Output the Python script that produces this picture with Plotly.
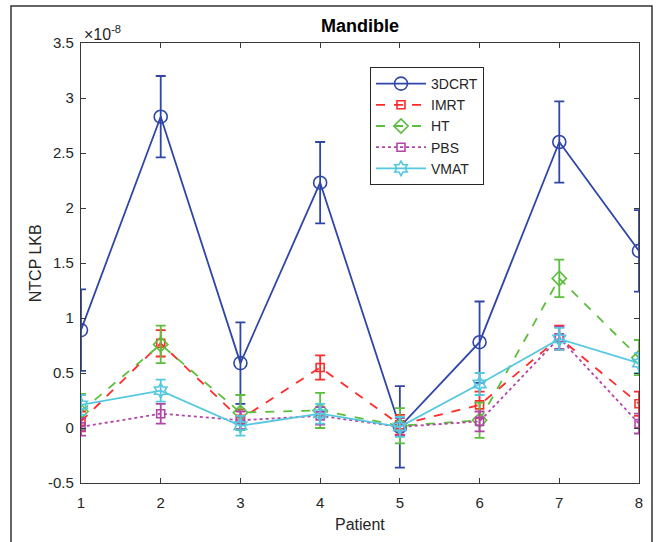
import plotly.graph_objects as go

# values in units of 1e-8 (axis shows x10^-8)
patients = [1, 2, 3, 4, 5, 6, 7, 8]
series_names = ["3DCRT", "IMRT", "HT", "PBS", "VMAT"]

dcrt = [0.89, 2.83, 0.59, 2.23, 0.01, 0.78, 2.60, 1.61]
dcrt_err = [0.37, 0.37, 0.37, 0.37, 0.37, 0.37, 0.37, 0.37]

imrt = [0.06, 0.77, 0.08, 0.55, 0.03, 0.21, 0.82, 0.22]
imrt_err = [0.09, 0.12, 0.09, 0.11, 0.09, 0.12, 0.11, 0.11]

ht = [0.15, 0.76, 0.14, 0.16, 0.02, 0.07, 1.36, 0.64]
ht_err = [0.16, 0.17, 0.16, 0.16, 0.16, 0.16, 0.17, 0.16]

pbs = [0.01, 0.13, 0.07, 0.11, 0.01, 0.06, 0.82, 0.04]
pbs_err = [0.08, 0.09, 0.08, 0.08, 0.08, 0.09, 0.1, 0.09]

vmat = [0.21, 0.34, 0.02, 0.13, 0.01, 0.40, 0.81, 0.59]
vmat_err = [0.09, 0.1, 0.09, 0.09, 0.09, 0.1, 0.1, 0.09]

y_ticks = [-0.5, 0, 0.5, 1, 1.5, 2, 2.5, 3, 3.5]
y_ticklabels = ["-0.5", "0", "0.5", "1", "1.5", "2", "2.5", "3", "3.5"]

colors = ["#2F46A8", "#FF2A2A", "#5CBE3C", "#B445A8", "#55C8E0"]
dashes = ["solid", "dash", "dash", "dot", "solid"]
symbols = ["circle-open", "square-open", "diamond-open", "square-open", "hexagram-open"]
msizes = [13, 8, 11, 8, 11]
values = [dcrt, imrt, ht, pbs, vmat]
errors = [dcrt_err, imrt_err, ht_err, pbs_err, vmat_err]

fig = go.Figure()
for name, v, e, c, d, s, ms in zip(series_names, values, errors, colors, dashes, symbols, msizes):
    fig.add_trace(go.Scatter(
        x=patients, y=v, name=name, mode="lines+markers",
        line=dict(color=c, width=1.8, dash=d),
        marker=dict(symbol=s, size=ms, color=c, line=dict(color=c, width=1.6)),
        error_y=dict(type="data", array=e, visible=True, color=c, thickness=1.8, width=5),
    ))

axis_col = "#3a3a3a"
font_fam = "Liberation Sans, Arial, sans-serif"
fig.update_layout(
    width=657, height=542,
    margin=dict(l=81, r=18, t=43, b=59),
    paper_bgcolor="white", plot_bgcolor="white",
    font=dict(family=font_fam, color="#262626", size=15),
    showlegend=True,
    legend=dict(x=(370 - 81) / 558, y=(483 - 67) / 440, xanchor="left", yanchor="top",
                bordercolor="#262626", borderwidth=1, bgcolor="white",
                font=dict(size=14, family=font_fam, color="#262626"),
                tracegroupgap=0, itemwidth=50),
    xaxis=dict(range=[1, 8], tickvals=patients, ticks="inside", ticklen=5,
               tickcolor=axis_col, showline=True, linecolor=axis_col, linewidth=1.2,
               mirror="ticks", showgrid=False, zeroline=False,
               tickfont=dict(size=15), ticklabelstandoff=6),
    yaxis=dict(range=[-0.5, 3.5], tickvals=y_ticks, ticktext=y_ticklabels,
               ticks="inside", ticklen=5, tickcolor=axis_col, showline=True,
               linecolor=axis_col, linewidth=1.2, mirror="ticks", showgrid=False,
               zeroline=False, tickfont=dict(size=15), ticklabelstandoff=3),
)

fig.add_annotation(text="<b>Mandible</b>", xref="paper", yref="paper", x=0.5, y=1.039,
                   showarrow=False, font=dict(size=18, color="black"), yanchor="middle")
fig.add_annotation(text="×10<sup>-8</sup>", xref="paper", yref="paper", x=0.002, y=1.022,
                   xanchor="left", yanchor="middle", showarrow=False,
                   font=dict(size=16, color="#262626"))
fig.add_annotation(text="NTCP LKB", xref="paper", yref="paper", x=-0.082, y=0.5,
                   textangle=-90, showarrow=False, xanchor="center", yanchor="middle",
                   font=dict(size=16, color="#262626"))
fig.add_annotation(text="Patient", xref="paper", yref="paper", x=0.5, y=-0.095,
                   showarrow=False, xanchor="center", yanchor="middle",
                   font=dict(size=16, color="#262626"))

# outer frame of the figure
fig.add_shape(type="rect", xref="paper", yref="paper",
              x0=(11 - 81) / 558, x1=(652 - 81) / 558,
              y0=(483 - 545) / 440, y1=(483 - 6) / 440,
              line=dict(color="#333333", width=1.5), fillcolor="rgba(0,0,0,0)", layer="below")

fig.write_html("out.html", config={"displayModeBar": False},
               post_script="document.body.style.margin='0';document.body.style.overflow='hidden';")
